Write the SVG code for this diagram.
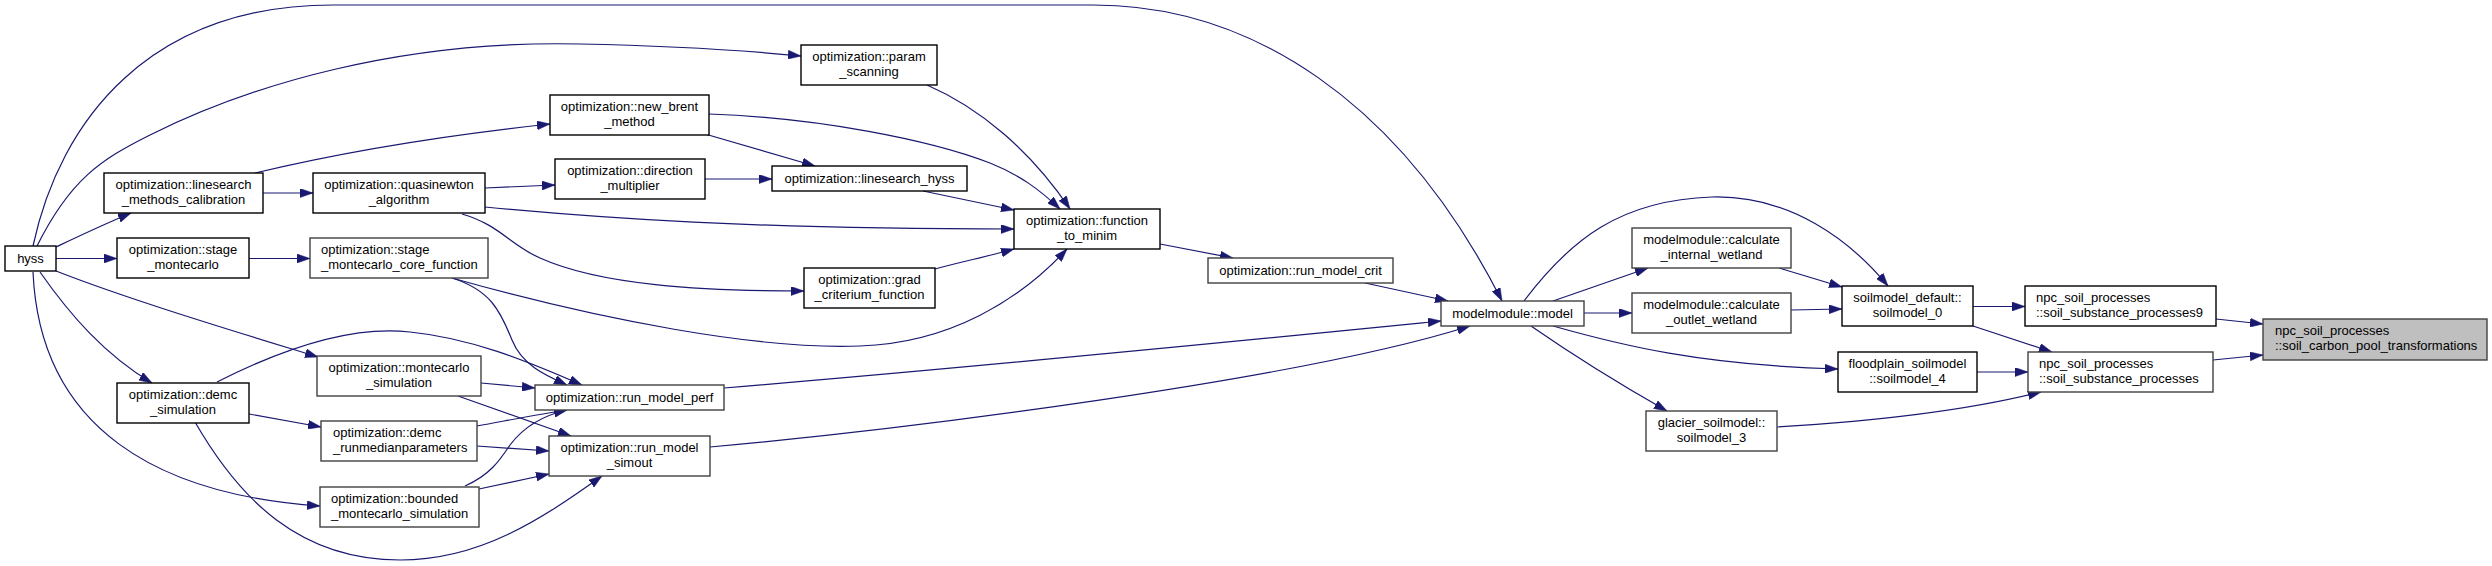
<svg xmlns="http://www.w3.org/2000/svg" width="2492" height="566" viewBox="0 0 2492 566">
<style>
.n rect{fill:#ffffff;stroke:#000000;stroke-width:1.4}
.n.g rect{stroke:#404040}
.n.hl rect{fill:#bfbfbf;stroke:#404040}
text{font-family:"Liberation Sans",Arial,Helvetica,sans-serif;font-size:13px;fill:#000000}
.c{text-anchor:middle}
.l{text-anchor:start}
#edges path{fill:none;stroke:#191970;stroke-width:1.2;marker-end:url(#ah)}
</style>
<defs>
<marker id="ah" markerWidth="13" markerHeight="9" refX="13" refY="4.5" orient="auto" markerUnits="userSpaceOnUse">
<path d="M0,0 L13,4.5 L0,9 z" fill="#191970" stroke="#191970" stroke-width="0.5"/>
</marker>
</defs>
<rect x="0" y="0" width="2492" height="566" fill="#ffffff"/>
<g id="edges">
<path d="M56,247 C75,238 100,226 131,213"/>
<path d="M56,258.5 L117,258.5"/>
<path d="M40,272 C70,315 105,355 152,383"/>
<path d="M56,271 C130,300 240,333 318,357"/>
<path d="M33,272 C40,430 160,495 320,506"/>
<path d="M33,246 C60,120 150,5 333,5 L1093,5 C1250,5 1400,100 1502,301"/>
<path d="M37,246 C70,180 100,160 150,135 C250,85 400,40 580,44 C680,46 740,50 801,56"/>
<path d="M255,173 C330,155 420,138 550,124"/>
<path d="M263,193 L313,193"/>
<path d="M249,258.5 L310,258.5"/>
<path d="M249,414 L321,427"/>
<path d="M217,382 C280,350 350,325 410,332 C470,338 525,360 582,385"/>
<path d="M452,278 C490,290 500,310 512,340 C522,365 545,375 567,385"/>
<path d="M195,422 C240,500 300,560 400,560 C480,560 540,520 602,476"/>
<path d="M485,188 L555,185"/>
<path d="M485,207 C600,218 750,229 1014,229"/>
<path d="M462,214 C500,225 510,245 540,258 C600,285 700,291 804,291"/>
<path d="M452,278 C600,320 760,350 860,346 C950,343 1020,300 1067,249"/>
<path d="M481,383 L535,388"/>
<path d="M458,396 L571,436"/>
<path d="M477,426 C510,420 540,414 567,410"/>
<path d="M477,446 L549,451"/>
<path d="M465,486 C490,475 500,460 510,445 C525,425 545,415 567,410"/>
<path d="M479,489 L549,474"/>
<path d="M927,85 C980,108 1030,150 1070,209"/>
<path d="M709,114 C820,118 930,140 990,163 C1020,175 1040,190 1060,209"/>
<path d="M705,134 L815,166"/>
<path d="M705,179 L772,179"/>
<path d="M923,191 C960,199 990,205 1014,210"/>
<path d="M935,269 C960,262 990,256 1014,249"/>
<path d="M724,388 C1000,365 1300,335 1441,321"/>
<path d="M710,447 C900,430 1300,380 1470,326"/>
<path d="M1160,244 L1233,258"/>
<path d="M1365,283 L1448,301"/>
<path d="M1524,301 C1570,240 1620,200 1712,197 C1790,195 1850,240 1888,286"/>
<path d="M1553,301 L1648,268"/>
<path d="M1584,313 L1632,313"/>
<path d="M1553,326 C1620,345 1700,365 1838,369"/>
<path d="M1531,326 C1580,360 1630,390 1667,411"/>
<path d="M1779,268 L1842,287"/>
<path d="M1791,310 L1842,309"/>
<path d="M1973,306.5 L2025,306.5"/>
<path d="M1973,326 L2052,352"/>
<path d="M1977,372 L2028,372"/>
<path d="M1777,427 C1880,421 1970,410 2041,392"/>
<path d="M2216,319 L2263,324"/>
<path d="M2213,360 L2263,355"/>
</g>
<g id="hyss" class="n"><rect x="5" y="246" width="51" height="25"/><text class="c" x="30.5" y="263">hyss</text></g>
<g id="linesearch_methods_calibration" class="n"><rect x="104" y="173" width="159" height="40"/><text class="c" x="183.5" y="189">optimization::linesearch</text><text class="c" x="183.5" y="204">_methods_calibration</text></g>
<g id="stage_montecarlo" class="n"><rect x="117" y="238" width="132" height="40"/><text class="c" x="183" y="254">optimization::stage</text><text class="c" x="183" y="269">_montecarlo</text></g>
<g id="demc_simulation" class="n"><rect x="117" y="383" width="132" height="40"/><text class="c" x="183" y="399">optimization::demc</text><text class="c" x="183" y="414">_simulation</text></g>
<g id="quasinewton_algorithm" class="n"><rect x="313" y="173" width="172" height="40"/><text class="c" x="399" y="189">optimization::quasinewton</text><text class="c" x="399" y="204">_algorithm</text></g>
<g id="stage_montecarlo_core_function" class="n g"><rect x="310" y="238" width="178" height="40"/><text class="l" x="321" y="254">optimization::stage</text><text class="l" x="321" y="269">_montecarlo_core_function</text></g>
<g id="montecarlo_simulation" class="n g"><rect x="317" y="356" width="164" height="40"/><text class="c" x="399" y="372">optimization::montecarlo</text><text class="c" x="399" y="387">_simulation</text></g>
<g id="demc_runmedianparameters" class="n g"><rect x="321" y="421" width="156" height="40"/><text class="l" x="333" y="437">optimization::demc</text><text class="l" x="333" y="452">_runmedianparameters</text></g>
<g id="bounded_montecarlo_simulation" class="n g"><rect x="320" y="487" width="159" height="40"/><text class="l" x="331" y="503">optimization::bounded</text><text class="l" x="331" y="518">_montecarlo_simulation</text></g>
<g id="new_brent_method" class="n"><rect x="550" y="95" width="159" height="40"/><text class="c" x="629.5" y="111">optimization::new_brent</text><text class="c" x="629.5" y="126">_method</text></g>
<g id="param_scanning" class="n"><rect x="801" y="45" width="136" height="40"/><text class="c" x="869" y="61">optimization::param</text><text class="c" x="869" y="76">_scanning</text></g>
<g id="direction_multiplier" class="n"><rect x="555" y="159" width="150" height="40"/><text class="c" x="630" y="175">optimization::direction</text><text class="c" x="630" y="190">_multiplier</text></g>
<g id="linesearch_hyss" class="n"><rect x="772" y="166" width="195" height="25"/><text class="c" x="869.5" y="183">optimization::linesearch_hyss</text></g>
<g id="grad_criterium_function" class="n"><rect x="804" y="268" width="131" height="40"/><text class="c" x="869.5" y="284">optimization::grad</text><text class="c" x="869.5" y="299">_criterium_function</text></g>
<g id="run_model_perf" class="n g"><rect x="535" y="385" width="189" height="25"/><text class="c" x="629.5" y="402">optimization::run_model_perf</text></g>
<g id="run_model_simout" class="n g"><rect x="549" y="436" width="161" height="40"/><text class="c" x="629.5" y="452">optimization::run_model</text><text class="c" x="629.5" y="467">_simout</text></g>
<g id="function_to_minim" class="n"><rect x="1014" y="209" width="146" height="40"/><text class="c" x="1087" y="225">optimization::function</text><text class="c" x="1087" y="240">_to_minim</text></g>
<g id="run_model_crit" class="n g"><rect x="1208" y="258" width="185" height="25"/><text class="c" x="1300.5" y="275">optimization::run_model_crit</text></g>
<g id="modelmodule_model" class="n g"><rect x="1441" y="301" width="143" height="25"/><text class="c" x="1512.5" y="318">modelmodule::model</text></g>
<g id="calculate_internal_wetland" class="n g"><rect x="1632" y="228" width="159" height="40"/><text class="c" x="1711.5" y="244">modelmodule::calculate</text><text class="c" x="1711.5" y="259">_internal_wetland</text></g>
<g id="calculate_outlet_wetland" class="n g"><rect x="1632" y="293" width="159" height="40"/><text class="c" x="1711.5" y="309">modelmodule::calculate</text><text class="c" x="1711.5" y="324">_outlet_wetland</text></g>
<g id="glacier_soilmodel_3" class="n g"><rect x="1646" y="411" width="131" height="40"/><text class="c" x="1711.5" y="427">glacier_soilmodel::</text><text class="c" x="1711.5" y="442">soilmodel_3</text></g>
<g id="soilmodel_0" class="n"><rect x="1842" y="286" width="131" height="40"/><text class="c" x="1907.5" y="302">soilmodel_default::</text><text class="c" x="1907.5" y="317">soilmodel_0</text></g>
<g id="floodplain_soilmodel_4" class="n"><rect x="1838" y="352" width="139" height="40"/><text class="c" x="1907.5" y="368">floodplain_soilmodel</text><text class="c" x="1907.5" y="383">::soilmodel_4</text></g>
<g id="soil_substance_processes9" class="n"><rect x="2025" y="286" width="191" height="40"/><text class="l" x="2036" y="302">npc_soil_processes</text><text class="l" x="2036" y="317">::soil_substance_processes9</text></g>
<g id="soil_substance_processes" class="n g"><rect x="2028" y="352" width="185" height="40"/><text class="l" x="2039" y="368">npc_soil_processes</text><text class="l" x="2039" y="383">::soil_substance_processes</text></g>
<g id="soil_carbon_pool_transformations" class="n hl"><rect x="2263" y="319" width="224" height="41"/><text class="l" x="2275" y="335">npc_soil_processes</text><text class="l" x="2275" y="350">::soil_carbon_pool_transformations</text></g>
</svg>
